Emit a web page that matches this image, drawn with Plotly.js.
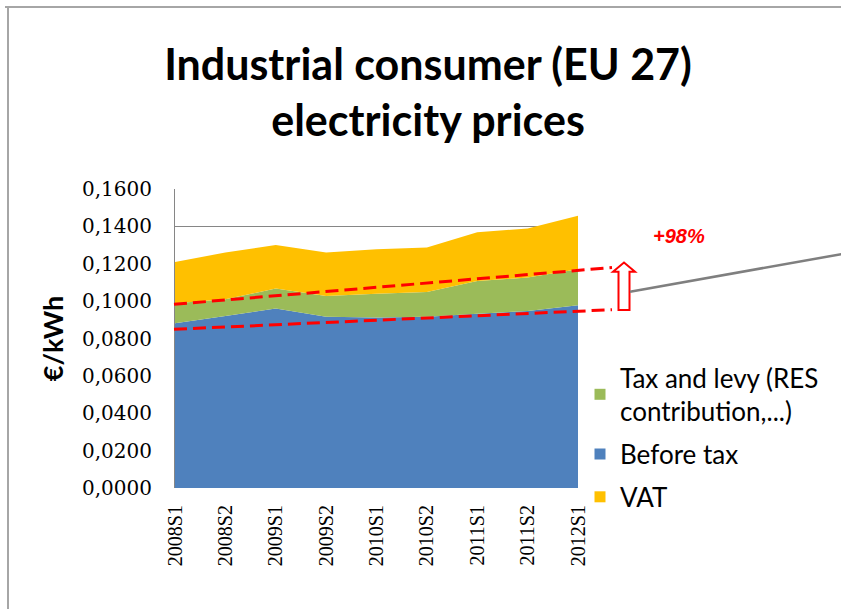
<!DOCTYPE html>
<html>
<head>
<meta charset="utf-8">
<script src="https://cdn.plot.ly/plotly-3.0.1.min.js"></script>
<style>html,body{margin:0;padding:0;background:#fff;}#chart{width:841px;height:609px;}</style>
</head>
<body>
<div id="chart"></div>
<script>
// ---- data ----
const periods = ["2008S1","2008S2","2009S1","2009S2","2010S1","2010S2","2011S1","2011S2","2012S1"];
const beforeTax = [0.0881, 0.0920, 0.0960, 0.0917, 0.0912, 0.0917, 0.0933, 0.0947, 0.0978];
const taxAndLevy = [0.0107, 0.0090, 0.0107, 0.0111, 0.0128, 0.0132, 0.0175, 0.0179, 0.0193];
const vat = [0.0222, 0.0250, 0.0234, 0.0232, 0.0238, 0.0238, 0.0260, 0.0263, 0.0286];
const yTicks = [0, 0.02, 0.04, 0.06, 0.08, 0.10, 0.12, 0.14, 0.16];
const seriesNames = ["Before tax", "Tax and levy (RES<br>contribution,...)", "VAT"];
const seriesColors = ["#4F81BD", "#9BBB59", "#FFC000"];

// ---- geometry helpers (plot area in pixels) ----
const W = 841, H = 609, L = 175, R = 578, T = 189, B = 488;
const px = x => (x - L) / (R - L);
const py = y => (B - y) / (B - T);

const seriesValues = [beforeTax, taxAndLevy, vat];
const traces = seriesValues.map((vals, i) => ({
  x: periods, y: vals, name: seriesNames[i], stackgroup: "one", mode: "none",
  fillcolor: seriesColors[i], showlegend: false, hoverinfo: "x+y+name"
}));
// legend entries (square keys, reference order: Tax and levy, Before tax, VAT)
[1, 0, 2].forEach((i, k) => traces.push({
  x: [null], y: [null], name: seriesNames[i], mode: "markers", legendgroup: "g" + k,
  marker: {symbol: "square", size: 11, color: seriesColors[i]}, showlegend: true, hoverinfo: "skip"
}));

const arrowPts = [[618.5,310],[618.5,271.7],[613,271.7],[624,262.5],[635,271.7],[629.5,271.7],[629.5,310]];
const arrowPath = "M " + arrowPts.map(p => px(p[0]) + "," + py(p[1])).join(" L ") + " Z";

const layout = {
  width: W, height: H,
  margin: {l: L, r: W - R, t: T, b: H - B, pad: 0},
  paper_bgcolor: "#ffffff", plot_bgcolor: "#ffffff",
  separators: ", ",
  showlegend: true,
  title: {
    text: "<b>Industrial consumer (EU 27)<br>electricity prices</b>",
    font: {family: "Lato, sans-serif", size: 43, color: "#000000"},
    x: 428 / W, xref: "container", xanchor: "center",
    y: 1 - 80 / H, yref: "container", yanchor: "top"
  },
  xaxis: {
    type: "category", range: [0, periods.length - 1],
    tickangle: -90, ticks: "", showgrid: false, showline: false, zeroline: false,
    ticklabelstandoff: 12,
    tickfont: {family: "Liberation Serif, serif", size: 20, color: "#000000"}
  },
  yaxis: {
    range: [0, 0.16], tickvals: yTicks, tickformat: ".4f",
    ticks: "", ticklabelstandoff: 18,
    showgrid: true, gridcolor: "#868686", gridwidth: 1,
    showline: true, linecolor: "#868686", linewidth: 1, zeroline: false,
    tickfont: {family: "DejaVu Serif, serif", size: 20, color: "#000000"},
    title: {text: "<b>€/kWh</b>", standoff: 10,
            font: {family: "Lato, sans-serif", size: 27, color: "#000000"}}
  },
  legend: {
    x: px(580), y: py(354), xanchor: "left", yanchor: "top",
    traceorder: "grouped", tracegroupgap: 6,
    font: {family: "Lato, sans-serif", size: 26, color: "#000000"},
    bgcolor: "rgba(0,0,0,0)", itemwidth: 30
  },
  shapes: [
    {type: "line", xref: "paper", yref: "paper", x0: px(5), y0: py(7), x1: px(841), y1: py(7),
     line: {color: "#A6A6A6", width: 2}},
    {type: "line", xref: "paper", yref: "paper", x0: px(8), y0: py(7), x1: px(8), y1: py(609),
     line: {color: "#A6A6A6", width: 2}},
    {type: "line", xref: "paper", yref: "paper", x0: px(174), y0: py(304.3), x1: px(612), y1: py(267.5),
     line: {color: "#FF0000", width: 3, dash: "13px,6px"}},
    {type: "line", xref: "paper", yref: "paper", x0: px(174), y0: py(329.3), x1: px(612), y1: py(309.7),
     line: {color: "#FF0000", width: 3, dash: "13px,6px"}},
    {type: "path", xref: "paper", yref: "paper", path: arrowPath,
     fillcolor: "#FFFFFF", line: {color: "#FF0000", width: 2}},
    {type: "line", xref: "paper", yref: "paper", x0: px(630), y0: py(291.7), x1: px(845), y1: py(253.5),
     line: {color: "#7F7F7F", width: 2.5}}
  ],
  annotations: [
    {text: "<b><i>+98%</i></b>", xref: "paper", yref: "paper", x: px(678.5), y: py(235.5),
     xanchor: "center", yanchor: "middle", showarrow: false,
     font: {family: "Liberation Sans, Arial, sans-serif", size: 20, color: "#FF0000"}}
  ]
};

Plotly.newPlot("chart", traces, layout, {displayModeBar: false, staticPlot: true});
</script>
</body>
</html>
